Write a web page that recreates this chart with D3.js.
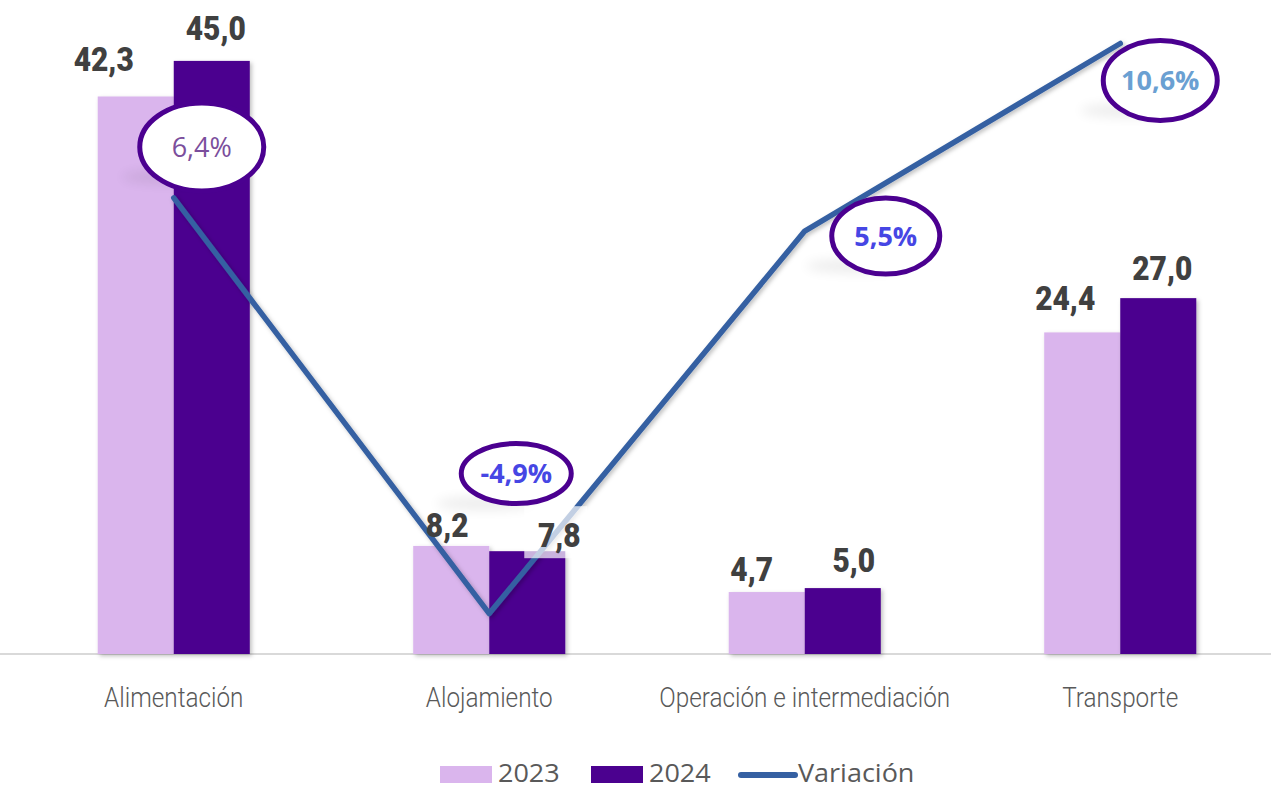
<!DOCTYPE html>
<html>
<head>
<meta charset="utf-8">
<script src="https://cdn.jsdelivr.net/npm/d3@7"></script>
<style>
  html, body { margin: 0; padding: 0; background: #fff; }
  svg { display: block; }
</style>
</head>
<body>
<svg id="chart" width="1271" height="788"></svg>
<script>
// data
var categories = ["Alimentación", "Alojamiento", "Operación e intermediación", "Transporte"];
var values2023 = [42.3, 8.2, 4.7, 24.4];
var values2024 = [45.0, 7.8, 5.0, 27.0];
var variacion = [6.4, -4.9, 5.5, 10.6];
var seriesNames = ["2023", "2024", "Variación"];

// label placement (hand moved in the original)
var shift2023 = [[-32, -25], [-4, -9], [-15, -11], [-17, -22]];
var shift2024 = [[4, -21], [32, -4], [11, -16], [4, -18]];
var pctShift = [[28, -51], [27, -140], [81, 5], [40, 37]];
var pctRadius = [[62, 44], [55, 30], [54, 38], [57, 40]];
var pctColor = ["#7b4e9c", "#4646e4", "#4646e4", "#6aa0d2"];
var pctWeight = ["normal", "bold", "bold", "bold"];

var col2023 = "#dab5ed", col2024 = "#4b018f", colLine = "#3560a2";

var svg = d3.select("#chart"),
  width = 1271,
  height = 788;

var locale = d3.formatLocale({ decimal: ",", thousands: ".", grouping: [3], currency: ["", "€"], minus: "-" });
var fmt = locale.format(".1f");

var defs = svg.append("defs");
var sh = defs.append("filter").attr("id", "shadow").attr("x", "-20%").attr("y", "-20%").attr("width", "140%").attr("height", "140%");
sh.append("feDropShadow").attr("dx", 2).attr("dy", 2).attr("stdDeviation", 2).attr("flood-color", "#000").attr("flood-opacity", 0.25);
var smudge = defs.append("filter").attr("id", "smudge").attr("x", "-50%").attr("y", "-100%").attr("width", "200%").attr("height", "300%");
smudge.append("feGaussianBlur").attr("stdDeviation", 6);

var x0 = d3.scaleBand()
  .domain(categories)
  .range([16, 1278])
  .paddingInner(0.518)
  .paddingOuter(0.259);
var x1 = d3.scaleBand().domain([0, 1]).range([0, x0.bandwidth()]);
var y = d3.scaleLinear().domain([0, 50]).range([654, -5]);
var y2 = d3.scaleLinear().domain([-6, 12]).range([654, -8]);

// baseline
svg.append("line")
  .attr("x1", 0).attr("x2", width)
  .attr("y1", y(0)).attr("y2", y(0))
  .attr("stroke", "#d9d9d9").attr("stroke-width", 2);

// bars
var groups = svg.append("g").selectAll("g")
  .data(categories)
  .enter().append("g")
  .attr("transform", function(d) { return "translate(" + x0(d) + ",0)"; });

groups.append("rect")
  .attr("x", x1(0)).attr("width", x1.bandwidth())
  .attr("y", function(d, i) { return y(values2023[i]); })
  .attr("height", function(d, i) { return y(0) - y(values2023[i]); })
  .attr("fill", col2023)
  .attr("filter", "url(#shadow)");

groups.append("rect")
  .attr("x", x1(1)).attr("width", x1.bandwidth())
  .attr("y", function(d, i) { return y(values2024[i]); })
  .attr("height", function(d, i) { return y(0) - y(values2024[i]); })
  .attr("fill", col2024)
  .attr("filter", "url(#shadow)");

// category labels (condensed look)
svg.append("g").selectAll("text")
  .data(categories)
  .enter().append("text")
  .attr("transform", function(d) {
    return "translate(" + (x0(d) + x0.bandwidth() / 2) + ",707) scale(0.9,1)";
  })
  .attr("text-anchor", "middle")
  .style("font-family", "Roboto, sans-serif")
  .style("font-weight", 300)
  .style("font-size", "27px")
  .attr("fill", "#595959")
  .text(function(d) { return d; });

// faint shadows of the moved labels
svg.append("g").selectAll("ellipse")
  .data(variacion)
  .enter().append("ellipse")
  .attr("cx", function(d, i) { return x0(categories[i]) + x0.bandwidth() / 2 + pctShift[i][0] - 30; })
  .attr("cy", function(d, i) { return y2(d) + pctShift[i][1] + 30; })
  .attr("rx", 50).attr("ry", 7)
  .attr("fill", "#000").attr("opacity", 0.07)
  .attr("filter", "url(#smudge)");

// variation line
var line = d3.line()
  .x(function(d, i) { return x0(categories[i]) + x0.bandwidth() / 2; })
  .y(function(d) { return y2(d); });

svg.append("path")
  .datum(variacion)
  .attr("d", line)
  .attr("fill", "none")
  .attr("stroke", colLine)
  .attr("stroke-width", 5.5)
  .attr("stroke-linecap", "round")
  .attr("stroke-linejoin", "round")
  .attr("filter", "url(#shadow)");

// bar value labels
function barLabels(vals, shift, idx) {
  var g = svg.append("g");
  vals.forEach(function(v, i) {
    var cx = x0(categories[i]) + x1(idx) + x1.bandwidth() / 2 + shift[i][0];
    var cy = y(v) + shift[i][1];
    if (idx == 1 && i == 1) {
      // this one sits on a see-through white box in the original
      g.append("rect")
        .attr("x", cx - 35).attr("y", cy - 41)
        .attr("width", 63).attr("height", 52)
        .attr("fill", "#fff").attr("opacity", 0.7);
    }
    g.append("text")
      .attr("transform", "translate(" + cx + "," + cy + ") scale(0.88,1)")
      .attr("text-anchor", "middle")
      .style("font-family", "Roboto, sans-serif")
      .style("font-weight", 900)
      .style("font-size", "34px")
      .attr("fill", "#404040")
      .text(fmt(v));
  });
}
barLabels(values2023, shift2023, 0);
barLabels(values2024, shift2024, 1);

// percentage labels in ellipses
var pct = svg.append("g").selectAll("g")
  .data(variacion)
  .enter().append("g")
  .attr("transform", function(d, i) {
    var px = x0(categories[i]) + x0.bandwidth() / 2 + pctShift[i][0];
    var py = y2(d) + pctShift[i][1];
    return "translate(" + px + "," + py + ")";
  });

pct.append("ellipse")
  .attr("rx", function(d, i) { return pctRadius[i][0]; })
  .attr("ry", function(d, i) { return pctRadius[i][1]; })
  .attr("fill", "#fff")
  .attr("stroke", "#4b0090")
  .attr("stroke-width", 5);

pct.append("text")
  .attr("text-anchor", "middle")
  .attr("dy", "0.36em")
  .style("font-family", "'Open Sans', sans-serif")
  .style("font-size", "27px")
  .style("font-weight", function(d, i) { return pctWeight[i]; })
  .attr("fill", function(d, i) { return pctColor[i]; })
  .text(function(d) { return fmt(d) + "%"; });

// legend
var legend = svg.append("g").attr("transform", "translate(440,771)");
var legendItems = [
  { name: seriesNames[0], type: "rect", color: col2023, x: 0 },
  { name: seriesNames[1], type: "rect", color: col2024, x: 151 },
  { name: seriesNames[2], type: "line", color: colLine, x: 298 }
];
legendItems.forEach(function(it) {
  if (it.type == "rect") {
    legend.append("rect")
      .attr("x", it.x).attr("y", -5)
      .attr("width", 52).attr("height", 17)
      .attr("fill", it.color);
  } else {
    legend.append("line")
      .attr("x1", it.x + 3).attr("x2", it.x + 57)
      .attr("y1", 4).attr("y2", 4)
      .attr("stroke", it.color).attr("stroke-width", 6)
      .attr("stroke-linecap", "round");
  }
  legend.append("text")
    .attr("transform", "translate(" + (it.x + (it.type == "rect" ? 58 : 60)) + ",11) scale(1.08,1)")
    .style("font-family", "'Open Sans', sans-serif")
    .style("font-size", "25px")
    .attr("fill", "#595959")
    .text(it.name);
});
</script>
</body>
</html>
